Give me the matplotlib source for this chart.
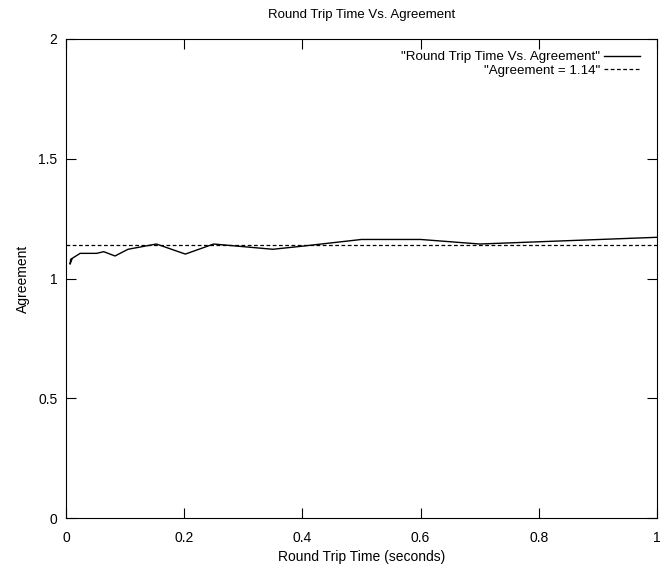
import matplotlib
matplotlib.use("Agg")
import matplotlib.pyplot as plt

plt.rcParams['font.family'] = ['Liberation Sans', 'DejaVu Sans']
plt.rcParams['font.size'] = 10

# round trip time (s) vs agreement
rtt = [0.010, 0.007, 0.008, 0.024, 0.052, 0.064, 0.083, 0.105, 0.153,
       0.202, 0.250, 0.300, 0.350, 0.400, 0.500, 0.600, 0.700, 1.000]
agreement = [1.08, 1.06, 1.08, 1.105, 1.105, 1.112, 1.094, 1.122, 1.144,
             1.102, 1.144, 1.133, 1.122, 1.135, 1.163, 1.163, 1.144, 1.172]
mean_agreement = 1.14

fig = plt.figure(figsize=(6.66, 5.7), dpi=100)
ax = fig.add_axes([0.099, 0.0912, 0.8875, 0.8404])

ax.plot(rtt, agreement, color='black', lw=1.0,
        label='"Round Trip Time Vs. Agreement"')
ax.plot([0, 1], [mean_agreement, mean_agreement], color='black', lw=0.9,
        linestyle=(0, (3, 2)), label='"Agreement = 1.14"')

ax.set_xlim(0, 1)
ax.set_ylim(0, 2)
ax.set_xticks([0, 0.2, 0.4, 0.6, 0.8, 1])
ax.set_xticklabels(['0', '0.2', '0.4', '0.6', '0.8', '1'])
ax.set_yticks([0, 0.5, 1, 1.5, 2])
ax.set_yticklabels(['0', '0.5', '1', '1.5', '2'])
ax.tick_params(direction='in', top=True, right=True, length=7, width=0.8)
ax.tick_params(axis='x', pad=9)
ax.tick_params(axis='y', pad=6)

ax.set_xlabel('Round Trip Time (seconds)', labelpad=4)
ax.set_ylabel('Agreement', labelpad=6)
ax.set_title('Round Trip Time Vs. Agreement', fontsize=9.5, pad=15)

leg = ax.legend(loc='upper right', bbox_to_anchor=(0.971, 0.975),
                frameon=False, markerfirst=False, fontsize=9.6,
                handlelength=2.7, handletextpad=0.3, borderaxespad=0,
                borderpad=0, labelspacing=0.1)
for t in leg.get_texts():
    t.set_ha('right')

fig.savefig('out.png', dpi=100)
